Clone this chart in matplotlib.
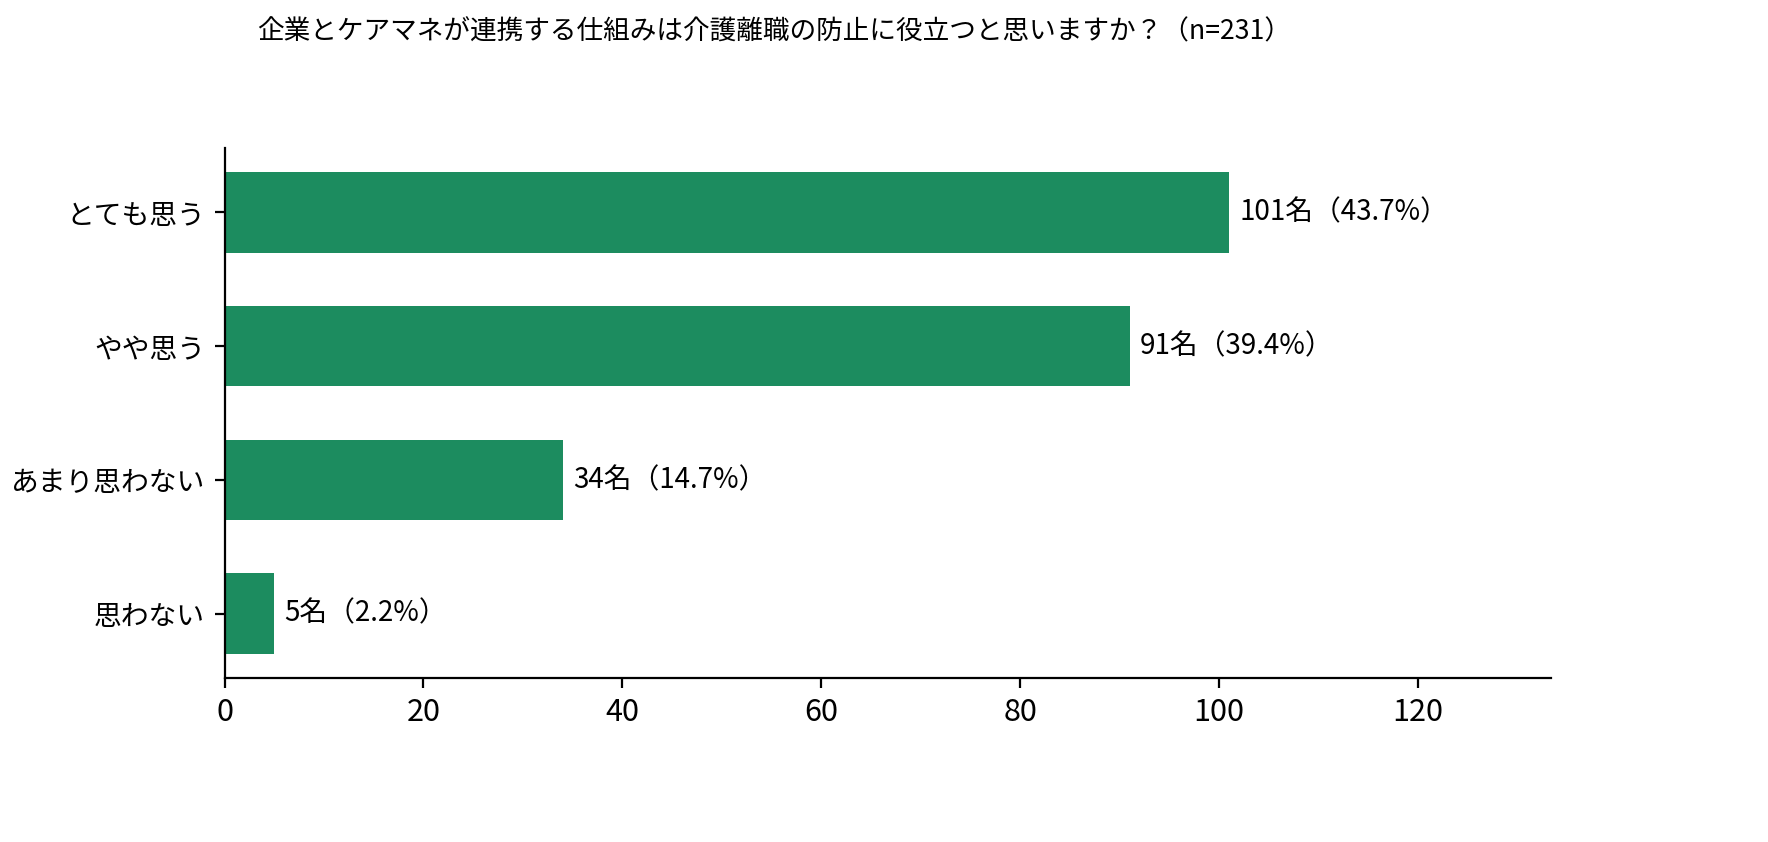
import matplotlib
matplotlib.use("Agg")
import matplotlib.pyplot as plt

plt.rcParams['font.family'] = ['Noto Sans CJK JP', 'DejaVu Sans']

# data
categories = ['とても思う', 'やや思う', 'あまり思わない', '思わない']
counts = [101, 91, 34, 5]
percents = [43.7, 39.4, 14.7, 2.2]
total_n = 231

bar_color = '#1c8c5f'

fig = plt.figure(figsize=(8.84, 4.21), dpi=200)
ax = fig.add_axes([0.127, 0.195, 0.750, 0.629])

ypos = list(range(len(categories)))
bars = ax.barh(ypos, counts, height=0.6, color=bar_color)
ax.set_yticks(ypos)
ax.set_yticklabels(categories, fontsize=10)
ax.invert_yaxis()
ax.set_xlim(0, max(counts) * 1.32)
ax.tick_params(axis='x', labelsize=11)

for bar, c, p in zip(bars, counts, percents):
    ax.text(bar.get_width() + 1, bar.get_y() + bar.get_height() / 2,
            f'{c}名（{p:.1f}%）', ha='left', va='center', fontsize=10)

ax.spines['top'].set_visible(False)
ax.spines['right'].set_visible(False)

fig.text(0.438, 0.962, f'企業とケアマネが連携する仕組みは介護離職の防止に役立つと思いますか？（n={total_n}）',
         ha='center', va='center', fontsize=9.6)

fig.savefig('out.png', dpi=200)
